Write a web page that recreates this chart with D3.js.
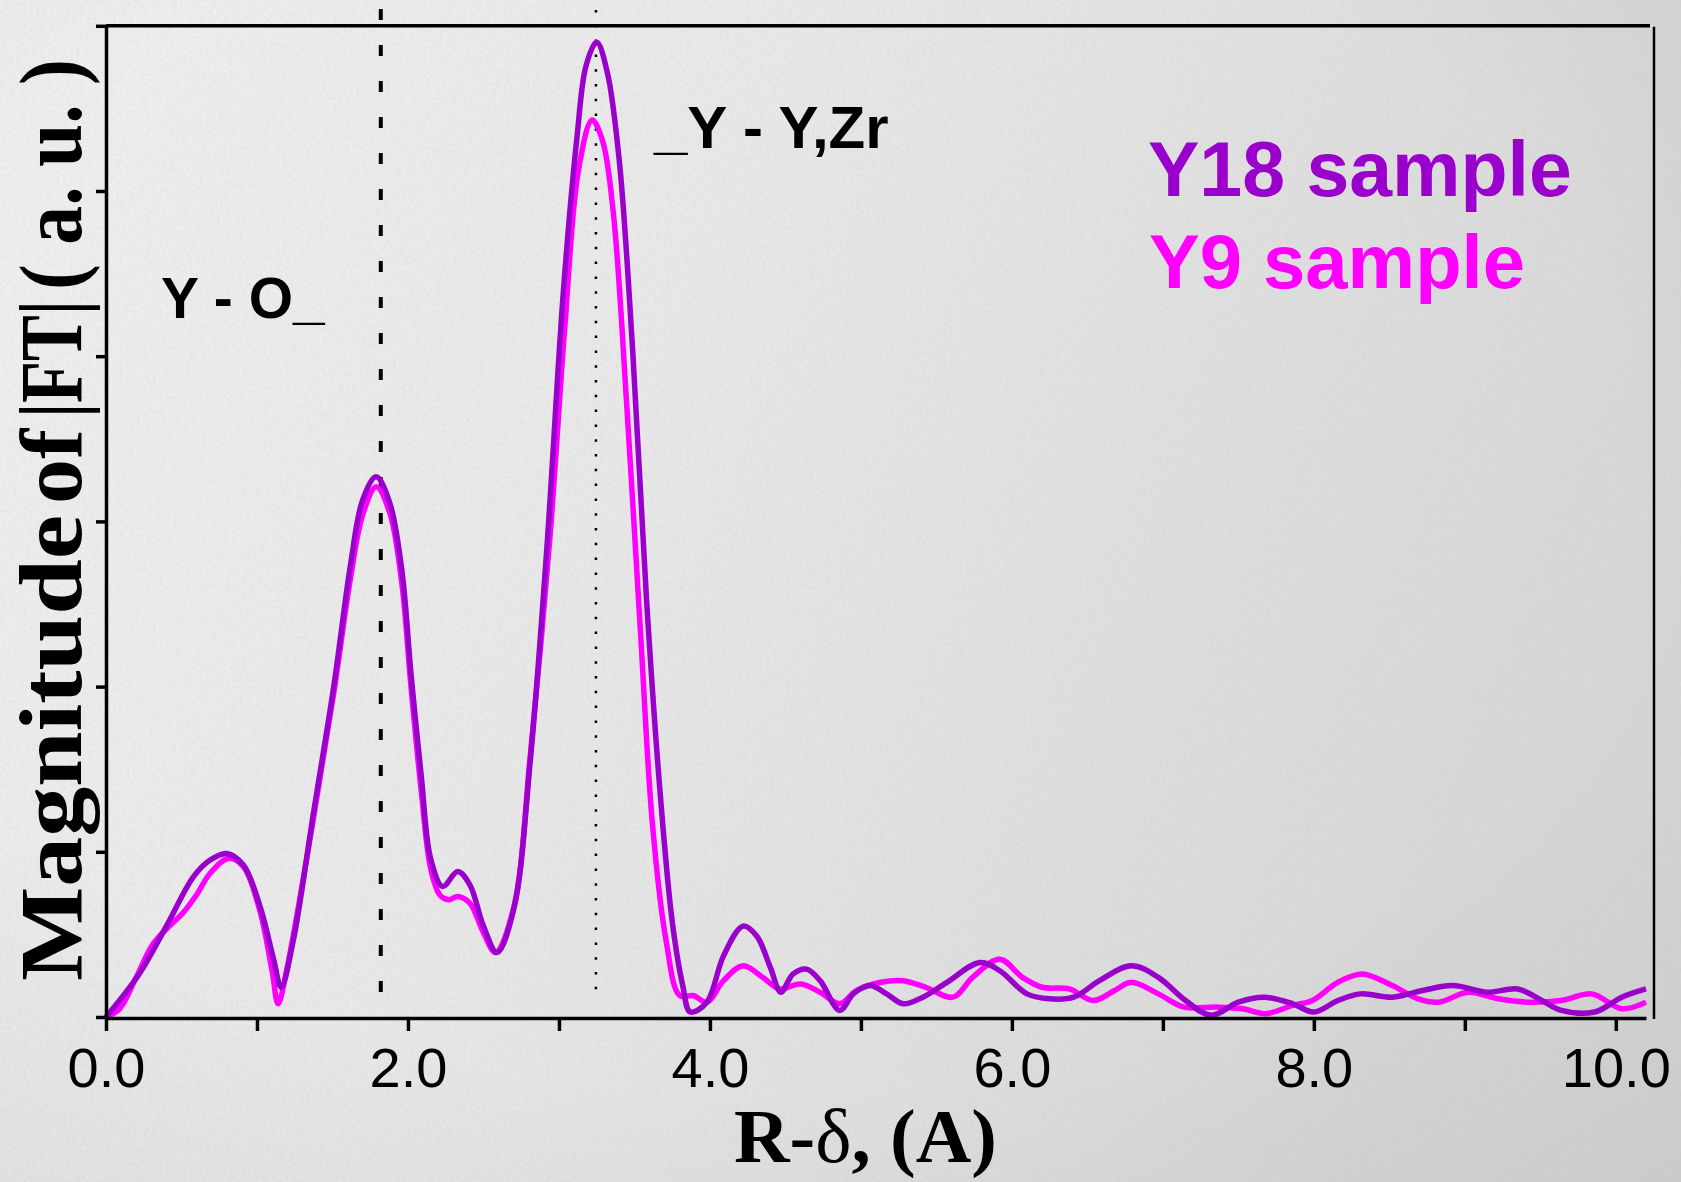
<!DOCTYPE html>
<html>
<head>
<meta charset="utf-8">
<script src="https://cdn.jsdelivr.net/npm/d3@7"></script>
<style>
  html, body { margin: 0; padding: 0; overflow: hidden; }
  svg { display: block; }
</style>
</head>
<body>
<script>
// Y18 sample
const r18 = [0, 0.22, 0.40, 0.58, 0.69, 0.80, 0.91, 1.02, 1.11, 1.16, 1.24, 1.37, 1.51, 1.62, 1.70, 1.79, 1.88, 1.96, 2.02, 2.09, 2.15, 2.23, 2.33, 2.41, 2.50, 2.59, 2.70, 2.81, 2.92, 3.03, 3.12, 3.18, 3.25, 3.32, 3.40, 3.49, 3.58, 3.67, 3.75, 3.82, 3.87, 3.98, 4.09, 4.22, 4.31, 4.40, 4.47, 4.55, 4.64, 4.73, 4.86, 4.95, 5.06, 5.17, 5.28, 5.41, 5.57, 5.79, 5.92, 6.10, 6.25, 6.41, 6.58, 6.79, 6.97, 7.15, 7.32, 7.50, 7.67, 7.86, 8.00, 8.16, 8.31, 8.52, 8.72, 8.92, 9.15, 9.35, 9.51, 9.64, 9.86, 10.04, 10.20];
const ft18 = [0, 0.26, 0.55, 0.85, 0.95, 0.99, 0.92, 0.67, 0.35, 0.18, 0.46, 1.21, 2.01, 2.74, 3.13, 3.27, 3.11, 2.70, 2.08, 1.44, 0.96, 0.79, 0.88, 0.80, 0.55, 0.39, 0.65, 1.55, 2.84, 4.40, 5.33, 5.76, 5.90, 5.72, 5.18, 4.01, 2.53, 1.36, 0.58, 0.19, 0.03, 0.09, 0.37, 0.55, 0.49, 0.30, 0.15, 0.26, 0.29, 0.22, 0.04, 0.14, 0.19, 0.14, 0.08, 0.12, 0.21, 0.33, 0.28, 0.14, 0.11, 0.12, 0.22, 0.31, 0.24, 0.10, 0.01, 0.09, 0.12, 0.08, 0.03, 0.10, 0.14, 0.12, 0.16, 0.19, 0.15, 0.17, 0.10, 0.04, 0.03, 0.12, 0.17];

// Y9 sample
const r9 = [0, 0.09, 0.20, 0.31, 0.42, 0.51, 0.60, 0.69, 0.81, 0.91, 1.02, 1.10, 1.14, 1.20, 1.37, 1.51, 1.62, 1.70, 1.79, 1.88, 1.96, 2.02, 2.09, 2.15, 2.21, 2.27, 2.33, 2.41, 2.50, 2.58, 2.70, 2.81, 2.94, 3.04, 3.13, 3.22, 3.29, 3.36, 3.45, 3.54, 3.62, 3.71, 3.80, 3.89, 3.98, 4.09, 4.22, 4.35, 4.46, 4.60, 4.73, 4.86, 4.97, 5.13, 5.28, 5.43, 5.61, 5.74, 5.92, 6.07, 6.20, 6.38, 6.54, 6.68, 6.79, 6.97, 7.14, 7.36, 7.53, 7.68, 7.86, 7.99, 8.16, 8.32, 8.52, 8.69, 8.83, 9.02, 9.22, 9.41, 9.64, 9.84, 10.04, 10.20];
const ft9 = [0, 0.05, 0.24, 0.44, 0.55, 0.63, 0.74, 0.87, 0.96, 0.91, 0.64, 0.28, 0.08, 0.30, 1.18, 1.97, 2.66, 3.04, 3.21, 3.05, 2.62, 2.00, 1.35, 0.90, 0.74, 0.71, 0.73, 0.69, 0.51, 0.39, 0.66, 1.58, 2.90, 4.19, 5.13, 5.43, 5.30, 4.87, 3.69, 2.33, 1.16, 0.46, 0.13, 0.13, 0.09, 0.22, 0.31, 0.24, 0.17, 0.20, 0.15, 0.08, 0.16, 0.21, 0.22, 0.18, 0.12, 0.24, 0.35, 0.24, 0.18, 0.17, 0.10, 0.16, 0.21, 0.14, 0.06, 0.06, 0.05, 0.02, 0.07, 0.10, 0.21, 0.26, 0.19, 0.11, 0.09, 0.15, 0.11, 0.09, 0.10, 0.14, 0.05, 0.09];

const xTicks = [0, 1, 2, 3, 4, 5, 6, 7, 8, 9, 10];
const yTicks = [0, 1, 2, 3, 4, 5, 6];
const peakLines = [1.82, 3.245];   // Y-O shell (dashed), Y-Y,Zr shell (dotted)

const W = 1681, H = 1182;
const svg = d3.select('body').append('svg')
  .attr('width', W)
  .attr('height', H);

// background: grey paper-ish gradient with a bit of noise
const defs = svg.append('defs');
const bg = defs.append('linearGradient').attr('id', 'bg')
  .attr('x1', 0).attr('y1', 0).attr('x2', 1).attr('y2', 0.3);
bg.append('stop').attr('offset', 0).attr('stop-color', '#f4f4f4');
bg.append('stop').attr('offset', 0.45).attr('stop-color', '#ececec');
bg.append('stop').attr('offset', 1).attr('stop-color', '#d9d9d9');
const vig = defs.append('radialGradient').attr('id', 'vig')
  .attr('cx', 0.45).attr('cy', 0.4).attr('r', 0.8);
vig.append('stop').attr('offset', 0.65).attr('stop-color', '#000').attr('stop-opacity', 0);
vig.append('stop').attr('offset', 1).attr('stop-color', '#000').attr('stop-opacity', 0.05);
const noise = defs.append('filter').attr('id', 'noise')
  .attr('x', 0).attr('y', 0).attr('width', 1).attr('height', 1);
noise.append('feTurbulence').attr('type', 'fractalNoise')
  .attr('baseFrequency', 0.3).attr('numOctaves', 3).attr('seed', 4);
noise.append('feColorMatrix').attr('type', 'matrix')
  .attr('values', '0 0 0 0 0.55  0 0 0 0 0.55  0 0 0 0 0.55  0 0 0 0.3 0');

svg.append('rect').attr('width', W).attr('height', H).attr('fill', 'url(#bg)');
svg.append('rect').attr('width', W).attr('height', H).attr('filter', 'url(#noise)');
svg.append('rect').attr('width', W).attr('height', H).attr('fill', 'url(#vig)');

// scales
let x = d3.scaleLinear()
  .domain([0, 10.2])
  .range([106, 1646]);
let y = d3.scaleLinear()
  .domain([0, 6])
  .range([1017, 25.8]);

// vertical marker lines
svg.append('line')
  .attr('x1', x(peakLines[0])).attr('x2', x(peakLines[0]))
  .attr('y1', 9).attr('y2', 1007)
  .attr('stroke', '#000').attr('stroke-width', 4)
  .attr('stroke-dasharray', '11,25');
svg.append('line')
  .attr('x1', x(peakLines[1])).attr('x2', x(peakLines[1]))
  .attr('y1', 10).attr('y2', 1001)
  .attr('stroke', '#000').attr('stroke-width', 2.5)
  .attr('stroke-dasharray', '2.5,12.3');

// curves
const line = d3.line()
  .x(d => x(d[0]))
  .y(d => y(d[1]))
  .curve(d3.curveCatmullRom.alpha(0.5));

const series = [
  { r: r9, ft: ft9, color: '#ff00ff' },
  { r: r18, ft: ft18, color: '#9900cc' }
];
series.forEach(s => {
  svg.append('path')
    .datum(s.r.map((v, i) => [v, s.ft[i]]))
    .attr('d', line)
    .attr('fill', 'none')
    .attr('stroke', s.color)
    .attr('stroke-width', 5.5)
    .attr('stroke-linejoin', 'round');
});

// axes
const xAxis = svg.append('g')
  .attr('transform', `translate(0,${y(0) + 1})`)
  .call(d3.axisBottom(x)
    .tickValues(xTicks)
    .tickSize(13)
    .tickSizeOuter(0)
    .tickFormat(d => d % 2 === 0 ? d3.format('.1f')(d) : ''));
xAxis.select('.domain').attr('stroke-width', 3.5);
xAxis.selectAll('.tick line').attr('stroke-width', 3.5);
xAxis.selectAll('.tick text')
  .attr('y', 69).attr('dy', 0)
  .attr('font-family', '"Liberation Sans", Arial, sans-serif')
  .attr('font-size', 56)
  .attr('fill', '#000');

const yAxis = svg.append('g')
  .attr('transform', `translate(${x(0)},0)`)
  .call(d3.axisLeft(y)
    .tickValues(yTicks)
    .tickSize(10)
    .tickSizeOuter(0)
    .tickFormat(''));
yAxis.select('.domain').attr('stroke-width', 3.5);
yAxis.selectAll('.tick line').attr('stroke-width', 3.5);

// top and right frame
svg.append('line')
  .attr('x1', x(0)).attr('x2', 1650)
  .attr('y1', y(6)).attr('y2', y(6))
  .attr('stroke', '#000').attr('stroke-width', 3.5);
svg.append('line')
  .attr('x1', 1654).attr('x2', 1654)
  .attr('y1', y(6) + 1).attr('y2', y(0) + 2)
  .attr('stroke', '#000').attr('stroke-width', 2.5);

// annotations
const sans = '"Liberation Sans", Arial, sans-serif';
const serif = '"Liberation Serif", "Times New Roman", serif';
const notes = [
  { text: 'Y - O_', x: 161, y: 318, size: 57, color: '#000' },
  { text: '_Y - Y,Zr', x: 654, y: 148, size: 60, color: '#000' },
  { text: 'Y18 sample', x: 1148, y: 196, size: 77, color: '#9900cc' },
  { text: 'Y9 sample', x: 1149, y: 288, size: 76, color: '#ff00ff' }
];
svg.selectAll('.note')
  .data(notes)
  .enter()
    .append('text')
    .classed('note', true)
    .attr('x', d => d.x)
    .attr('y', d => d.y)
    .attr('font-family', sans)
    .attr('font-weight', 'bold')
    .attr('font-size', d => d.size)
    .attr('fill', d => d.color)
    .text(d => d.text);

// x title
const xt = svg.append('text')
  .attr('x', 734).attr('y', 1162)
  .attr('font-family', serif)
  .attr('font-weight', 'bold')
  .attr('font-size', 77)
  .attr('fill', '#000');
xt.append('tspan').text('R-');
xt.append('tspan').attr('font-weight', 'normal').text('δ');
xt.append('tspan').text(', (A)');

// y title, spread out like the original
const yTitle = [
  { text: 'Magnitude', from: 515, to: 981 },
  { text: 'of', from: 429, to: 504 },
  { text: '|FT|', from: 300, to: 418 },
  { text: '( a. u. )', from: 59, to: 290 }
];
const yt = svg.append('g').attr('transform', 'translate(81,0) rotate(-90)');
yt.selectAll('text')
  .data(yTitle)
  .enter()
    .append('text')
    .attr('x', d => -d.to)
    .attr('y', 0)
    .attr('textLength', d => d.to - d.from)
    .attr('lengthAdjust', 'spacingAndGlyphs')
    .attr('font-family', serif)
    .attr('font-weight', 'bold')
    .attr('font-size', 88)
    .attr('fill', '#000')
    .text(d => d.text);
</script>
</body>
</html>
